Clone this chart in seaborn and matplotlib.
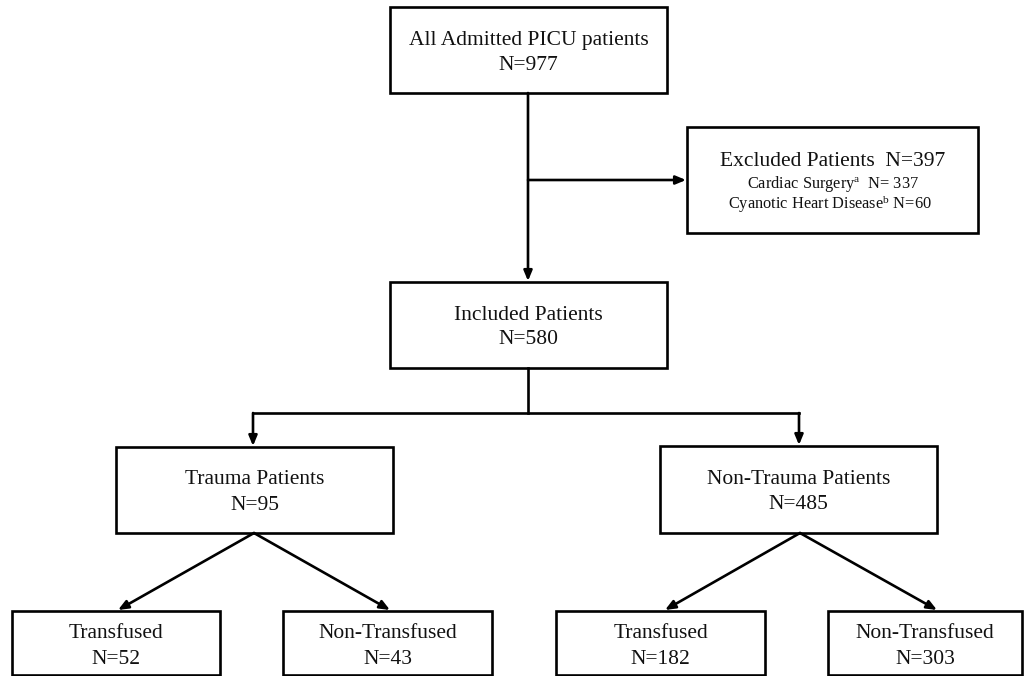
import matplotlib
matplotlib.use("Agg")
import matplotlib.pyplot as plt
import seaborn as sns
from matplotlib.patches import Rectangle

# ---- data ----
node_titles = ["All Admitted PICU patients", "Included Patients", "Trauma Patients",
               "Non-Trauma Patients", "Transfused", "Non-Transfused",
               "Transfused", "Non-Transfused"]
node_counts = [977, 580, 95, 485, 52, 43, 182, 303]
excluded_total = 397
excluded_reasons = ["Cardiac Surgery", "Cyanotic Heart Disease"]
excluded_marks = ["a", "b"]
excluded_counts = [337, 60]

sns.set_theme(style="white")
plt.rcParams['font.family'] = ['Liberation Serif', 'DejaVu Serif']
plt.rcParams['mathtext.fontset'] = 'custom'
plt.rcParams['mathtext.rm'] = 'Liberation Serif'
plt.rcParams['mathtext.it'] = 'Liberation Serif:italic'

fig = plt.figure(figsize=(10.25, 6.76), dpi=100)
ax = fig.add_axes([0, 0, 1, 1])
ax.set_xlim(0, 1025)
ax.set_ylim(676, 0)
ax.axis("off")

LW = 1.9
FS = 15.5

# layout (x0, y0, x1, y1) in pixel space
boxes = [(390, 7, 667, 93), (390, 282, 667, 368), (116, 447, 393, 533),
         (660, 446, 937, 533), (12, 611, 220, 675), (283, 611, 492, 675),
         (556, 611, 765, 675), (828, 611, 1022, 675)]
excl_box = (687, 127, 978, 233)

def draw_box(b):
    x0, y0, x1, y1 = b
    ax.add_patch(Rectangle((x0, y0), x1 - x0, y1 - y0, fill=False,
                           edgecolor="black", lw=LW, zorder=3))

for i, b in enumerate(boxes):
    draw_box(b)
    x0, y0, x1, y1 = b
    cx = (x0 + x1) / 2
    cy = (y0 + y1) / 2
    if i >= 4:
        t1, t2 = y0 + 22, y0 + 48
    else:
        t1, t2 = cy - 10, cy + 15
    ax.text(cx, t1, node_titles[i], ha="center", va="center", fontsize=FS, color="#111111")
    ax.text(cx, t2, f"N={node_counts[i]}", ha="center", va="center", fontsize=FS, color="#111111")

draw_box(excl_box)
ex_cx = (excl_box[0] + excl_box[2]) / 2
ax.text(ex_cx, 161, f"Excluded Patients  N={excluded_total}", ha="center", va="center",
        fontsize=FS, color="#111111")
ax.text(ex_cx, 184, excluded_reasons[0] + r"$^{\mathrm{" + excluded_marks[0] + "}}$" +
        f"  N= {excluded_counts[0]}", ha="center", va="center", fontsize=11.8, color="#111111")
ax.text(ex_cx - 3, 204, excluded_reasons[1] + r"$^{\mathrm{" + excluded_marks[1] + "}}$" +
        f" N={excluded_counts[1]}", ha="center", va="center", fontsize=11.8, color="#111111")

def line(p, q):
    ax.plot([p[0], q[0]], [p[1], q[1]], color="black", lw=LW, solid_capstyle="projecting", zorder=2)

def arrow(p, q):
    ax.annotate("", xy=q, xytext=p,
                arrowprops=dict(arrowstyle="-|>,head_length=0.6,head_width=0.25",
                                color="black", lw=LW, shrinkA=0, shrinkB=0,
                                mutation_scale=10), zorder=2)

# connectors
arrow((528, 93), (528, 281))
arrow((528, 180), (686, 180))
line((528, 368), (528, 413))
line((253, 413), (799, 413))
arrow((253, 413), (253, 446))
arrow((799, 413), (799, 445))
arrow((254, 533), (118, 610))
arrow((254, 533), (390, 610))
arrow((800, 533), (665, 610))
arrow((800, 533), (937, 610))

fig.savefig("out.png", dpi=100, facecolor="white")
